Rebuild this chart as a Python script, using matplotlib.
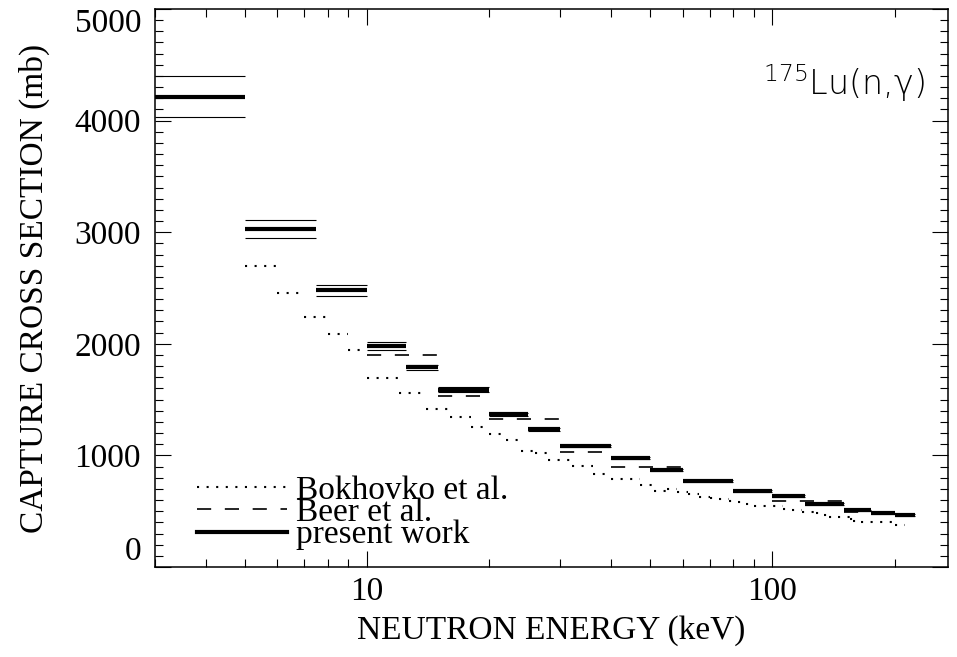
import matplotlib
matplotlib.use("Agg")
import matplotlib.pyplot as plt
from matplotlib.ticker import MultipleLocator, LogLocator, NullFormatter, FixedLocator, FixedFormatter
from matplotlib.lines import Line2D

plt.rcParams['font.family'] = ['Liberation Serif', 'DejaVu Serif']
plt.rcParams['mathtext.fontset'] = 'dejavusans'
plt.rcParams['mathtext.default'] = 'regular'

# present work: bin edges (keV), cross section (mb), uncertainty (mb)
present_lo = [3, 5, 7.5, 10, 12.5, 15, 20, 25, 30, 40, 50, 60, 80, 100, 120, 150, 175, 200]
present_hi = [5, 7.5, 10, 12.5, 15, 20, 25, 30, 40, 50, 60, 80, 100, 120, 150, 175, 200, 225]
present_xs = [4215, 3029, 2479, 1983, 1789, 1589, 1368, 1234, 1084, 979, 866, 771, 678, 636, 562, 508, 481, 466]
present_err = [183, 79, 50, 36, 22, 20, 15, 14, 12, 11, 10, 9, 8, 8, 7, 7, 7, 7]

# Beer et al.
beer_lo = [10, 15, 20, 30, 40, 60, 80, 100, 150]
beer_hi = [15, 20, 30, 40, 60, 80, 100, 150, 200]
beer_xs = [1897, 1532, 1325, 1033, 900, 765, 675, 592, 490]

# Bokhovko et al.
bok_lo = [5, 6, 7, 8, 9, 10, 12, 14, 16, 18, 20, 22, 24, 26, 28, 32, 36, 40, 47, 51, 55, 58,
          62, 66, 70, 74, 78, 82, 86, 90, 106, 112, 118, 128, 134, 138, 145, 155, 158, 165, 200]
bok_hi = [6, 7, 8, 9, 10, 12, 14, 16, 18, 20, 22, 24, 26, 28, 32, 36, 40, 47, 51, 55, 58, 62,
          66, 70, 74, 78, 82, 86, 90, 106, 112, 118, 128, 134, 138, 145, 155, 158, 165, 200, 212]
bok_xs = [2700, 2458, 2237, 2088, 1944, 1690, 1562, 1416, 1341, 1252, 1192, 1135, 1039, 1019,
          959, 905, 833, 785, 735, 681, 696, 675, 651, 630, 621, 609, 594, 580, 565, 549,
          520, 511, 490, 481, 466, 451, 445, 427, 415, 406, 376]

fig = plt.figure(figsize=(9.57, 6.57), dpi=100)
ax = fig.add_axes([155 / 957, 1 - 567 / 657, (948 - 155) / 957, (567 - 9) / 657])

dot_style = (0, (1, 3.6))
dash_style = (0, (8.5, 8.2))

bok = ax.hlines(bok_xs, bok_lo, bok_hi, colors='black', linewidth=1.5, linestyles=[dot_style])
bok.set_capstyle('butt')
beer = ax.hlines(beer_xs, beer_lo, beer_hi, colors='black', linewidth=1.2, linestyles=[dash_style])
beer.set_capstyle('butt')

err_up = [v + e for v, e in zip(present_xs, present_err)]
err_dn = [v - e for v, e in zip(present_xs, present_err)]
ax.hlines(err_up, present_lo, present_hi, colors='black', linewidth=0.8)
ax.hlines(err_dn, present_lo, present_hi, colors='black', linewidth=0.8)
pw = ax.hlines(present_xs, present_lo, present_hi, colors='black', linewidth=3.0)
pw.set_capstyle('butt')

ax.set_xscale('log')
ax.set_xlim(3, 271)
ax.set_ylim(0, 5000)

ax.xaxis.set_major_locator(FixedLocator([10, 100]))
ax.xaxis.set_major_formatter(FixedFormatter(['10', '100']))
ax.xaxis.set_minor_locator(LogLocator(base=10, subs=range(2, 10)))
ax.xaxis.set_minor_formatter(NullFormatter())
ax.set_yticks([0, 1000, 2000, 3000, 4000, 5000])
ax.yaxis.set_minor_locator(MultipleLocator(100))

ax.tick_params(which='both', direction='in', top=True, right=True, width=0.8, labelsize=24)
ax.tick_params(which='major', length=11.5)
ax.tick_params(which='minor', length=5.8)
ax.tick_params(axis='y', pad=10)
ax.tick_params(axis='x', pad=7)
for s in ax.spines.values():
    s.set_linewidth(1.1)

ylabs = ax.get_yticklabels()
ylabs[0].set_va('bottom')
ylabs[-1].set_va('top')

ax.set_xlabel('NEUTRON ENERGY (keV)', fontsize=24)
ax.set_ylabel('CAPTURE CROSS SECTION (mb)', fontsize=24)
ax.xaxis.set_label_coords(0.5, -0.086)
ax.yaxis.set_label_coords(-0.133, 0.5)

ax.text(0.971, 0.846, r'$^{175}$Lu(n,$\gamma$)', transform=ax.transAxes, ha='right',
        va='baseline', fontsize=24, family='DejaVu Sans', fontweight='light')

handles = [Line2D([], [], color='black', linewidth=1.5, linestyle=dot_style),
           Line2D([], [], color='black', linewidth=1.2, linestyle=dash_style),
           Line2D([], [], color='black', linewidth=3.0)]
ax.legend(handles, ['Bokhovko et al.', 'Beer et al.', 'present work'], loc='lower left',
          bbox_to_anchor=(0.053, 0.03), frameon=False, fontsize=24, borderpad=0,
          borderaxespad=0, handlelength=2.7, handletextpad=0.28, labelspacing=-0.25)

fig.savefig('out.png', dpi=100)
